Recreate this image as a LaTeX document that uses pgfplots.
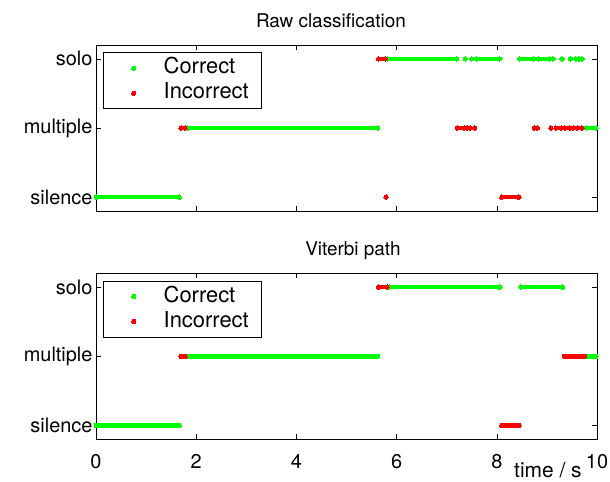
\documentclass[border=0pt]{standalone}
\usepackage{fontspec}
\setmainfont{TeX Gyre Heros}
\usepackage{pgfplots}
\pgfplotsset{compat=1.18}
\definecolor{mgreen}{rgb}{0,1,0}
\definecolor{mred}{rgb}{1,0,0}
\pgfplotsset{
 myax/.style={
  scale only axis, width=501bp, height=166bp,
  xmin=0, xmax=10, ymin=-0.2, ymax=2.2,
  xtick={0,2,4,6,8,10}, ytick={0,1,2}, yticklabels={silence,multiple,solo},
  tick align=inside, major tick length=5bp,
  tick style={black, line width=0.6bp},
  axis line style={line width=0.8bp},
  tick label style={font=\fontsize{20}{24}\selectfont},
  xticklabel style={yshift=-12bp},
  /pgf/number format/assume math mode=true,
  clip=false, unbounded coords=jump,
  title style={font=\fontsize{19}{23}\selectfont, anchor=base, yshift=12bp},
  legend style={at={(axis description cs:0.0146,0.956)}, anchor=north west,
    draw=black, line width=0.8bp, inner xsep=2bp, inner ysep=3bp, row sep=0bp,
    font=\fontsize{22}{25}\selectfont,
    nodes={text height=16bp, text depth=5bp, inner ysep=2bp}},
  legend cell align=left,
  legend image code/.code={\path[draw=none] (0bp,0bp) (56bp,0bp); \draw[##1] plot coordinates {(28bp,0bp)};},
 },
 seg/.style={color=#1, line width=4.4bp, mark=*, mark size=2.2bp, mark options={line width=0bp, fill=#1}},
 leg/.style={only marks, mark=*, color=#1, mark size=2.2bp, mark options={line width=0bp, fill=#1}},
}
\begin{document}
\begin{tikzpicture}
\path[use as bounding box] (-96bp,-271bp) rectangle (514bp,211bp);
\begin{axis}[myax, at={(0bp,0bp)}, xticklabels={}, title={Raw classification},
  title style={at={(axis description cs:0.469,1)}}]
\addlegendimage{leg=mgreen}
\addlegendentry{Correct}
\addlegendimage{leg=mred}
\addlegendentry{\makebox[94bp][l]{Incorrect}}
\addplot[seg=mgreen, forget plot] coordinates {
 (0.01,0) (1.66,0) (nan,nan)
 (1.83,1) (5.62,1) (nan,nan)
 (9.79,1) (9.98,1) (nan,nan)
 (5.82,2) (7.20,2) (nan,nan)
 (7.37,2) (nan,nan)
 (7.50,2) (nan,nan)
 (7.60,2) (8.06,2) (nan,nan)
 (8.46,2) (8.74,2) (nan,nan)
 (8.83,2) (9.06,2) (nan,nan)
 (9.12,2) (nan,nan)
 (9.30,2) (nan,nan)
 (9.47,2) (nan,nan)
 (9.58,2) (nan,nan)
 (9.64,2) (nan,nan)
 (9.70,2)
};
\addplot[seg=mred, forget plot] coordinates {
 (5.79,0) (nan,nan)
 (8.10,0) (8.44,0) (nan,nan)
 (1.70,1) (1.78,1) (nan,nan)
 (7.21,1) (7.35,1) (nan,nan)
 (7.41,1) (7.47,1) (nan,nan)
 (7.56,1) (nan,nan)
 (8.75,1) (8.81,1) (nan,nan)
 (9.08,1) (nan,nan)
 (9.18,1) (9.29,1) (nan,nan)
 (9.36,1) (9.46,1) (nan,nan)
 (9.53,1) (nan,nan)
 (9.61,1) (nan,nan)
 (9.70,1) (nan,nan)
 (5.64,2) (5.77,2)
};
\end{axis}
\begin{axis}[myax, at={(0bp,-228.3bp)}, title={Viterbi path},
  title style={at={(axis description cs:0.513,1)}},
  xlabel={time / s},
  xlabel style={font=\fontsize{21}{24}\selectfont, at={(axis description cs:0.902,-0.232)}, anchor=base, inner sep=0pt}]
\addlegendimage{leg=mgreen}
\addlegendentry{Correct}
\addlegendimage{leg=mred}
\addlegendentry{\makebox[94bp][l]{Incorrect}}
\addplot[seg=mgreen, forget plot] coordinates {
 (0.01,0) (1.66,0) (nan,nan)
 (1.83,1) (5.62,1) (nan,nan)
 (9.79,1) (9.98,1) (nan,nan)
 (5.85,2) (8.06,2) (nan,nan)
 (8.48,2) (9.31,2)
};
\addplot[seg=mred, forget plot] coordinates {
 (8.10,0) (8.44,0) (nan,nan)
 (1.70,1) (1.78,1) (nan,nan)
 (9.35,1) (9.75,1) (nan,nan)
 (5.64,2) (5.81,2)
};
\end{axis}
\end{tikzpicture}
\end{document}
